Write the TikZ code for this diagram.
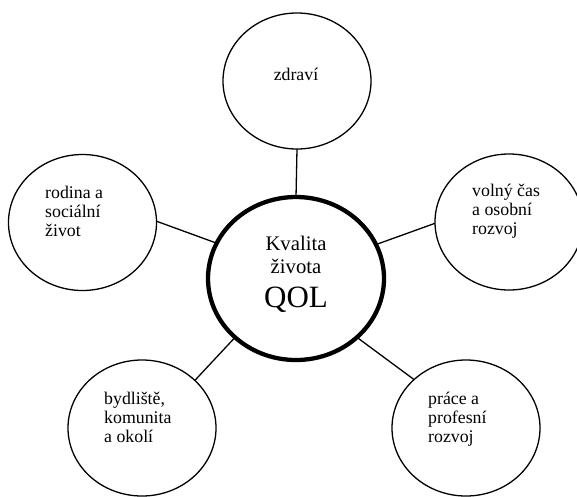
\documentclass[tikz,border=0pt]{standalone}
\usepackage{fontspec}
\setmainfont{Liberation Serif}
\usetikzlibrary{shapes.geometric}
\begin{document}
\begin{tikzpicture}[x=1pt,y=-1pt,
  topic/.style={ellipse, draw, line width=1.3pt, minimum width=148pt, minimum height=136pt, inner sep=0pt, outer sep=0pt},
  hub/.style={ellipse, draw, line width=4.3pt, minimum width=176pt, minimum height=163pt, inner sep=0pt, outer sep=0pt},
  link/.style={line width=1.3pt},
  lbl/.style={font=\fontsize{17.8}{19}\selectfont, inner sep=0pt, anchor=base west},
  hubtxt/.style={font=\fontsize{20.7}{23}\selectfont, inner sep=0pt, anchor=base},
]
\useasboundingbox (0,0) rectangle (577,496);

\node[hub] (qol) at (296,278.5) {};
\node[topic] (zdr) at (297,81) {};
\node[topic] (rod) at (82.5,222.5) {};
\node[topic] (vol) at (509,222) {};
\node[topic] (byd) at (142,428) {};
\node[topic] (pra) at (466,428) {};

\draw[link] (qol.90) -- (zdr.270);
\draw[link] (qol.156.3) -- (rod.1.5);
\draw[link] (qol.23.4) -- (vol.181.6);
\draw[link] (qol.224.3) -- (byd.42);
\draw[link] (qol.316.6) -- (pra.137.3);

\node[hubtxt] (t1) at (296,250) {Kvalita};
\node[hubtxt] (t2) at (296,273) {života};
\node[hubtxt, font=\fontsize{31}{31}\selectfont] (t3) at (296,307) {QOL};

\node[lbl, anchor=base] (tzdr) at (296,80) {zdraví};
\node[lbl] (trod) at (45,198) {\begin{tabular}[t]{@{}l@{}}rodina a\\sociální\\život\end{tabular}};
\node[lbl] (tvol) at (472,196) {\begin{tabular}[t]{@{}l@{}}volný čas\\a osobní\\rozvoj\end{tabular}};
\node[lbl] (tbyd) at (104,404) {\begin{tabular}[t]{@{}l@{}}bydliště,\\komunita\\a okolí\end{tabular}};
\node[lbl] (tpra) at (428,404) {\begin{tabular}[t]{@{}l@{}}práce a\\profesní\\rozvoj\end{tabular}};
\end{tikzpicture}
\end{document}
